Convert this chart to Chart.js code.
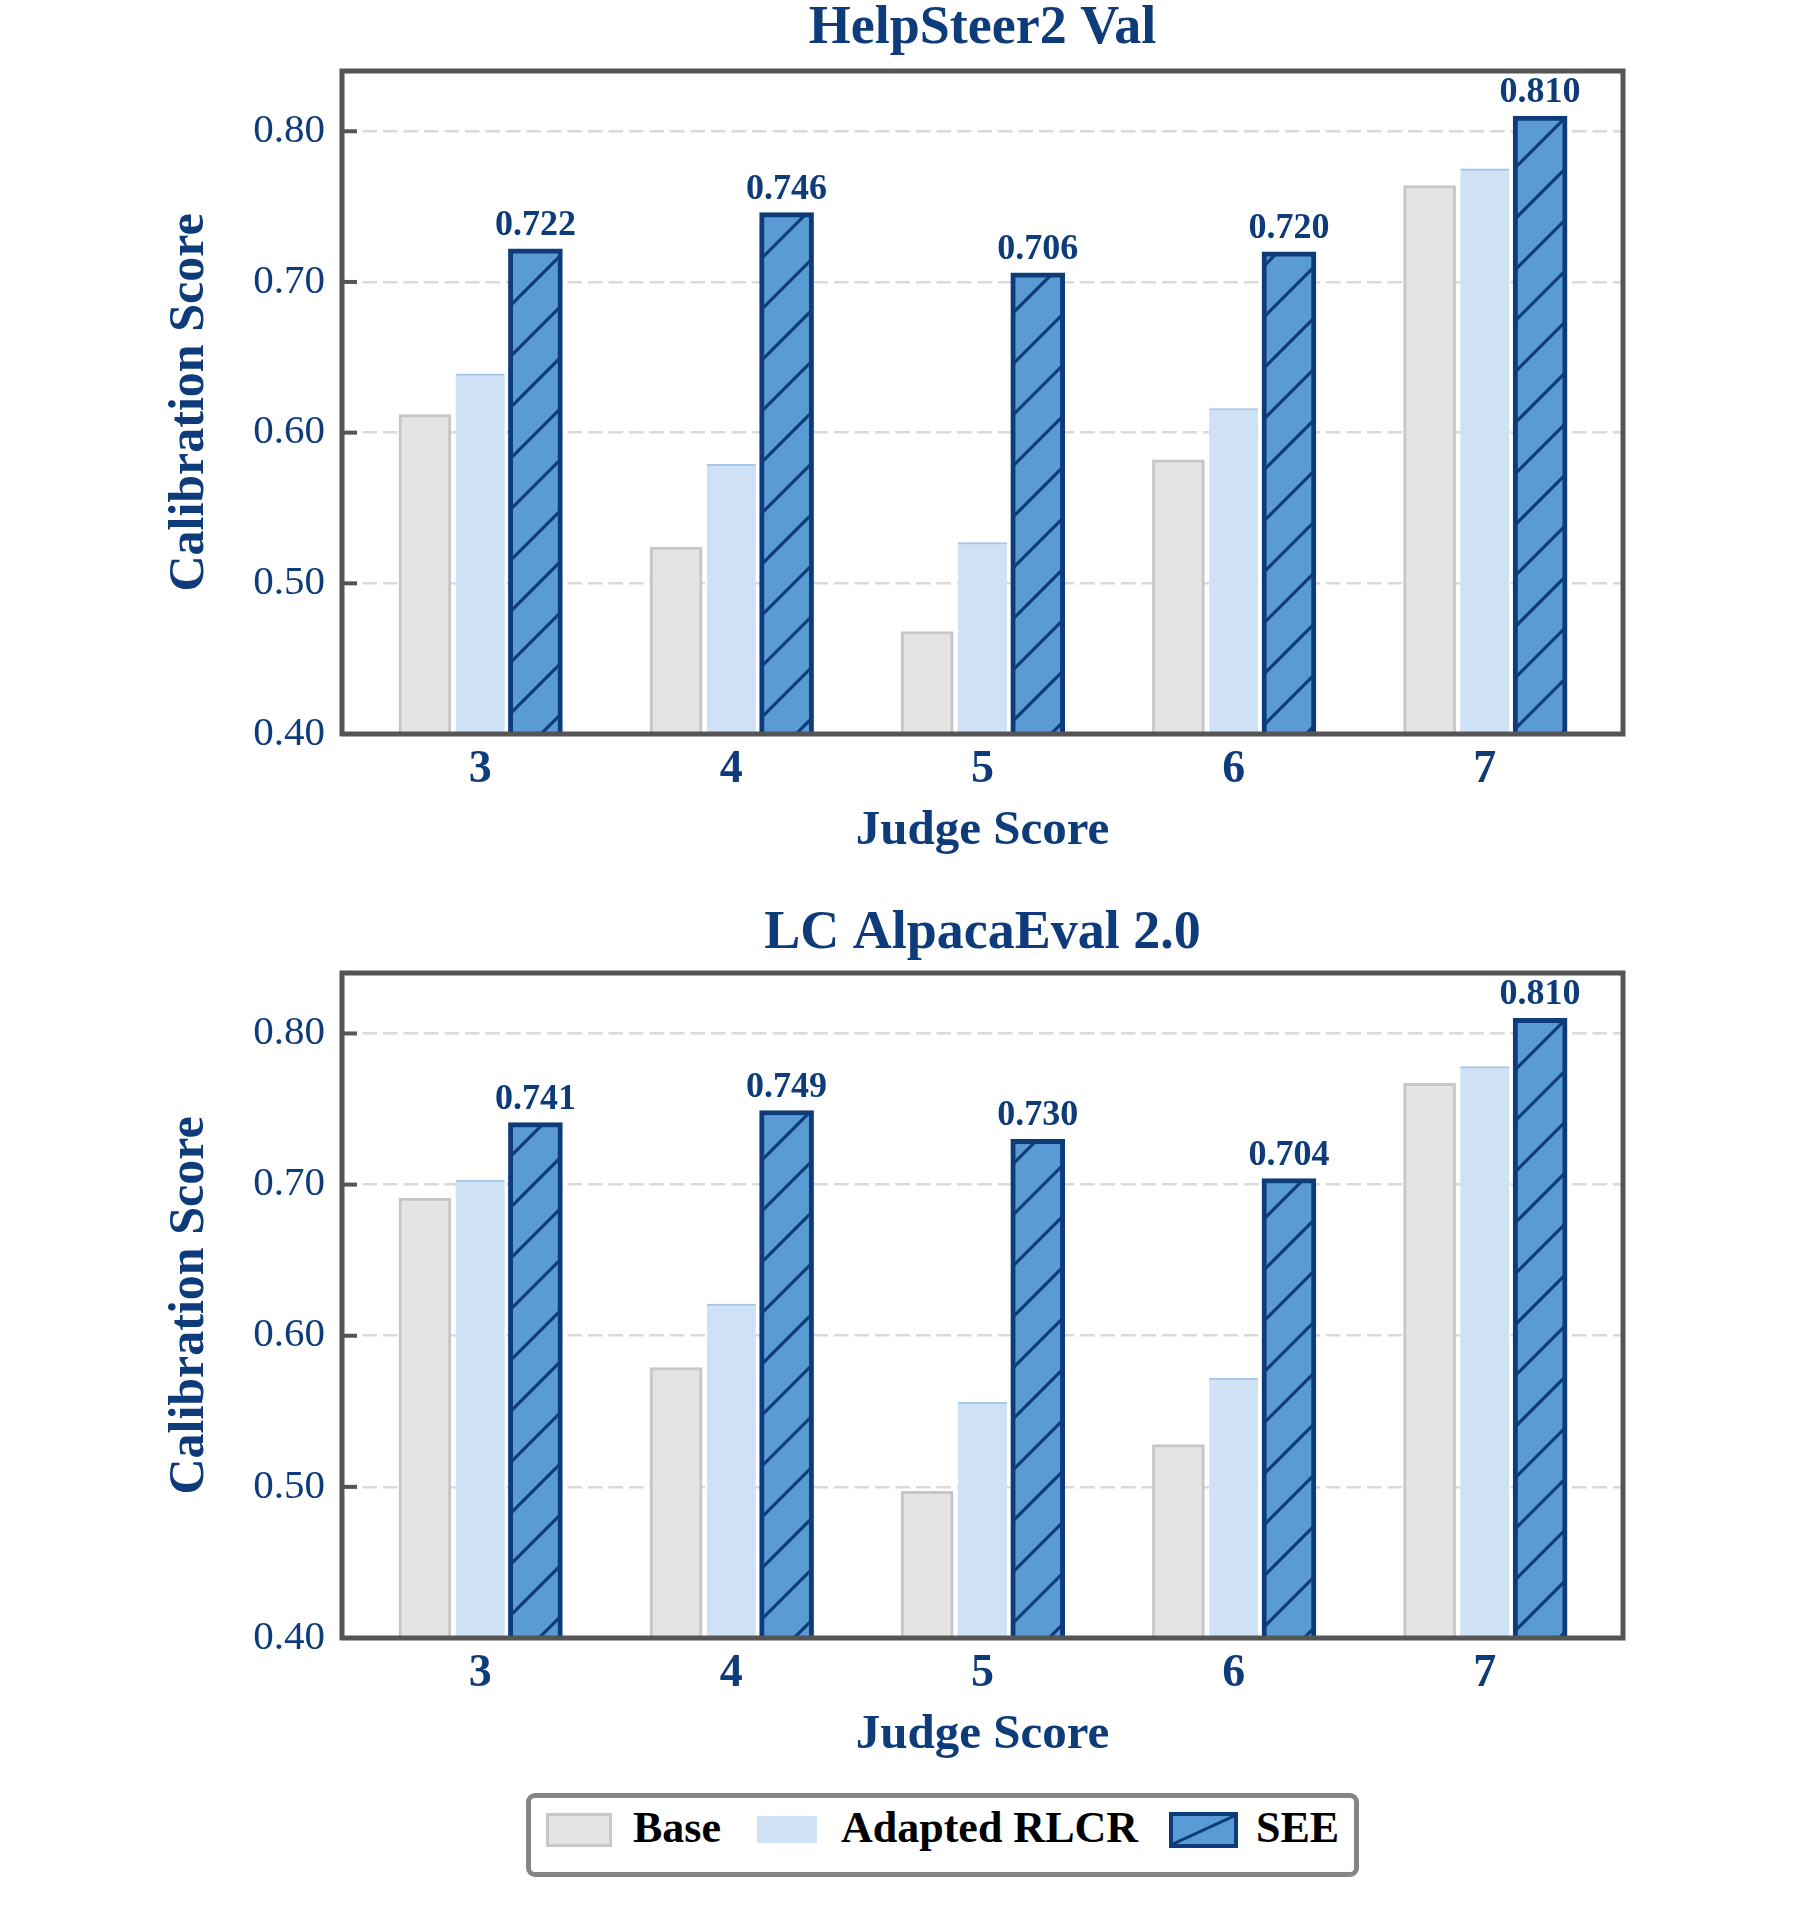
<!DOCTYPE html>
<html>
<head>
<meta charset="utf-8">
<title>Calibration Score by Judge Score</title>
<script src="https://cdn.jsdelivr.net/npm/chart.js@4.4.1/dist/chart.umd.min.js"></script>
<style>
    html, body { margin: 0; padding: 0; background: #fff; overflow: hidden; }
    #page { position: relative; width: 1808px; height: 1920px; }
    .panel { position: absolute; left: 0; width: 1808px; }
    #panelTop { top: 0; height: 880px; }
    #panelBottom { top: 902px; height: 882px; }
    #legend {
        position: absolute; left: 526px; top: 1793px; width: 833px; height: 84px;
        box-sizing: border-box; border: 5px solid #858585; border-radius: 9px; background: #fff;
    }
    .sw { position: absolute; box-sizing: border-box; }
    .lbl {
        position: absolute; top: 8px; white-space: nowrap; color: #000;
        font: bold 44px "Liberation Serif", "Times New Roman", serif; line-height: 44px;
    }
</style>
</head>
<body>
<div id="page">
    <div class="panel" id="panelTop"><canvas id="chartTop"></canvas></div>
    <div class="panel" id="panelBottom"><canvas id="chartBottom"></canvas></div>
    <div id="legend"></div>
</div>

<script>
// Data
const categories = ['3', '4', '5', '6', '7'];
const seriesNames = ['Base', 'Adapted RLCR', 'SEE'];
const yTicks = [0.40, 0.50, 0.60, 0.70, 0.80];

// HelpSteer2 Val
const helpBase = [0.612, 0.524, 0.468, 0.582, 0.764];
const helpRlcr = [0.639, 0.579, 0.527, 0.616, 0.775];
const helpSee  = [0.722, 0.746, 0.706, 0.720, 0.810];

// LC AlpacaEval 2.0
const alpacaBase = [0.691, 0.579, 0.497, 0.528, 0.767];
const alpacaRlcr = [0.703, 0.621, 0.556, 0.572, 0.778];
const alpacaSee  = [0.741, 0.749, 0.730, 0.704, 0.810];

// Look
const FONT = '"Liberation Serif", "Times New Roman", serif';
const NAVY = '#0e3c7b';
const SEE_FILL = '#5b9bd5';
const FRAME = '#555555';

function makeHatch(fill, line, gap) {
    const c = document.createElement('canvas');
    c.width = gap;
    c.height = gap;
    const g = c.getContext('2d');
    g.fillStyle = fill;
    g.fillRect(0, 0, gap, gap);
    g.strokeStyle = line;
    g.lineWidth = 3.2;
    g.beginPath();
    // "/" lines
    g.moveTo(0, gap); g.lineTo(gap, 0);
    g.moveTo(-gap / 2, gap / 2); g.lineTo(gap / 2, -gap / 2);
    g.moveTo(gap / 2, gap * 1.5); g.lineTo(gap * 1.5, gap / 2);
    g.stroke();
    return g.createPattern(c, 'repeat');
}

const hatch = makeHatch(SEE_FILL, NAVY, 51);

const seriesStyles = [
    { bg: '#e4e4e4', border: '#c6c6c6', width: 3, thick: 52, offset: -0.22 },
    { bg: '#cfe2f5', border: '#a3c7eb', width: { top: 2, left: 0, right: 0, bottom: 0 }, thick: 49, offset: 0 },
    { bg: hatch, border: NAVY, width: 5, thick: 54, offset: 0.22 }
];

// plot frame + inward y ticks
const framePlugin = {
    id: 'frame',
    afterDatasetsDraw(chart) {
        const { ctx, chartArea: a, scales: { y } } = chart;
        ctx.save();
        ctx.strokeStyle = FRAME;
        ctx.lineWidth = 4;
        yTicks.forEach(v => {
            const py = y.getPixelForValue(v);
            ctx.beginPath();
            ctx.moveTo(a.left, py);
            ctx.lineTo(a.left + 15, py);
            ctx.stroke();
        });
        ctx.lineWidth = 5;
        ctx.strokeRect(a.left, a.top, a.right - a.left, a.bottom - a.top);
        ctx.restore();
    }
};

// value labels over the SEE bars
const valueLabels = {
    id: 'valueLabels',
    afterDatasetsDraw(chart) {
        const { ctx } = chart;
        const last = chart.data.datasets.length - 1;
        const meta = chart.getDatasetMeta(last);
        ctx.save();
        ctx.fillStyle = NAVY;
        ctx.font = 'bold 36px ' + FONT;
        ctx.textAlign = 'center';
        ctx.textBaseline = 'alphabetic';
        meta.data.forEach((bar, i) => {
            const v = chart.data.datasets[last].data[i].y;
            ctx.fillText(v.toFixed(3), bar.x, bar.y - 14);
        });
        ctx.restore();
    }
};

function buildChart(canvasId, title, seriesValues, titleShift) {
    const datasets = seriesValues.map((vals, s) => ({
        label: seriesNames[s],
        data: vals.map((v, i) => ({ x: i + seriesStyles[s].offset, y: v })),
        backgroundColor: seriesStyles[s].bg,
        borderColor: seriesStyles[s].border,
        borderWidth: seriesStyles[s].width,
        barThickness: seriesStyles[s].thick,
        base: yTicks[0],
        grouped: false
    }));

    return new Chart(document.getElementById(canvasId), {
        type: 'bar',
        data: { datasets },
        plugins: [framePlugin, valueLabels],
        options: {
            responsive: true,
            maintainAspectRatio: false,
            animation: false,
            layout: { padding: { top: 0, left: 0, right: 185, bottom: 16 } },
            plugins: {
                legend: { display: false },
                tooltip: { enabled: false },
                title: {
                    display: true,
                    text: title,
                    fullSize: false,
                    color: NAVY,
                    font: { family: FONT, size: 54, weight: 'bold', lineHeight: 1 },
                    padding: { top: titleShift, bottom: 17 - titleShift }
                }
            },
            scales: {
                x: {
                    type: 'linear',
                    min: -0.55,
                    max: 4.55,
                    bounds: 'data',
                    offset: false,
                    afterBuildTicks: axis => { axis.ticks = categories.map((c, i) => ({ value: i })); },
                    afterFit: scale => { scale.height = 130; },
                    grid: { display: false, offset: false, drawTicks: false, tickLength: 0 },
                    border: { display: false },
                    ticks: {
                        autoSkip: false,
                        maxRotation: 0,
                        padding: 9,
                        color: NAVY,
                        font: { family: FONT, size: 46, weight: 'bold' },
                        callback: v => categories[v]
                    },
                    title: {
                        display: true,
                        text: 'Judge Score',
                        color: NAVY,
                        font: { family: FONT, size: 49, weight: 'bold', lineHeight: 1.2 },
                        padding: { top: 0, bottom: 3 }
                    }
                },
                y: {
                    min: 0.4,
                    max: 0.84,
                    afterBuildTicks: axis => { axis.ticks = yTicks.map(v => ({ value: v })); },
                    afterFit: scale => { scale.width = 342; },
                    grid: {
                        color: c => (c.tick && c.tick.value > 0.41) ? '#dadada' : 'rgba(0,0,0,0)',
                        lineWidth: 2.5,
                        drawTicks: false,
                        tickLength: 0
                    },
                    border: { display: false, dash: [14.5, 6] },
                    ticks: {
                        padding: 17,
                        color: NAVY,
                        font: { family: FONT, size: 41 },
                        callback: v => v.toFixed(2)
                    },
                    title: {
                        display: true,
                        text: 'Calibration Score',
                        color: NAVY,
                        font: { family: FONT, size: 50, weight: 'bold', lineHeight: 1.2 },
                        padding: { top: 160, bottom: 0 }
                    }
                }
            }
        }
    });
}

buildChart('chartTop', 'HelpSteer2 Val', [helpBase, helpRlcr, helpSee], 2);
buildChart('chartBottom', 'LC AlpacaEval 2.0', [alpacaBase, alpacaRlcr, alpacaSee], 5);

// Legend (HTML, built from the series names)
function buildLegend() {
    const legend = document.getElementById('legend');
    const swatches = [
        { left: 15, top: 15, w: 66, h: 34, css: 'background:#e4e4e4;border:3px solid #c8c8c8;' },
        { left: 226, top: 18, w: 60, h: 27, css: 'background:#cfe2f5;' },
        { left: 638, top: 14, w: 69, h: 36,
          css: 'border:4px solid ' + NAVY + ';background:linear-gradient(to bottom right,' + SEE_FILL + ' calc(50% - 2px),' + NAVY + ' calc(50% - 1px),' + NAVY + ' calc(50% + 1px),' + SEE_FILL + ' calc(50% + 2px));' }
    ];
    const textLeft = [102, 310, 725];
    seriesNames.forEach((name, i) => {
        const s = swatches[i];
        const sw = document.createElement('div');
        sw.className = 'sw';
        sw.style.cssText = `left:${s.left}px;top:${s.top}px;width:${s.w}px;height:${s.h}px;` + s.css;
        legend.appendChild(sw);
        const lbl = document.createElement('div');
        lbl.className = 'lbl';
        lbl.style.left = textLeft[i] + 'px';
        lbl.textContent = name;
        legend.appendChild(lbl);
    });
}

buildLegend();
</script>
</body>
</html>
